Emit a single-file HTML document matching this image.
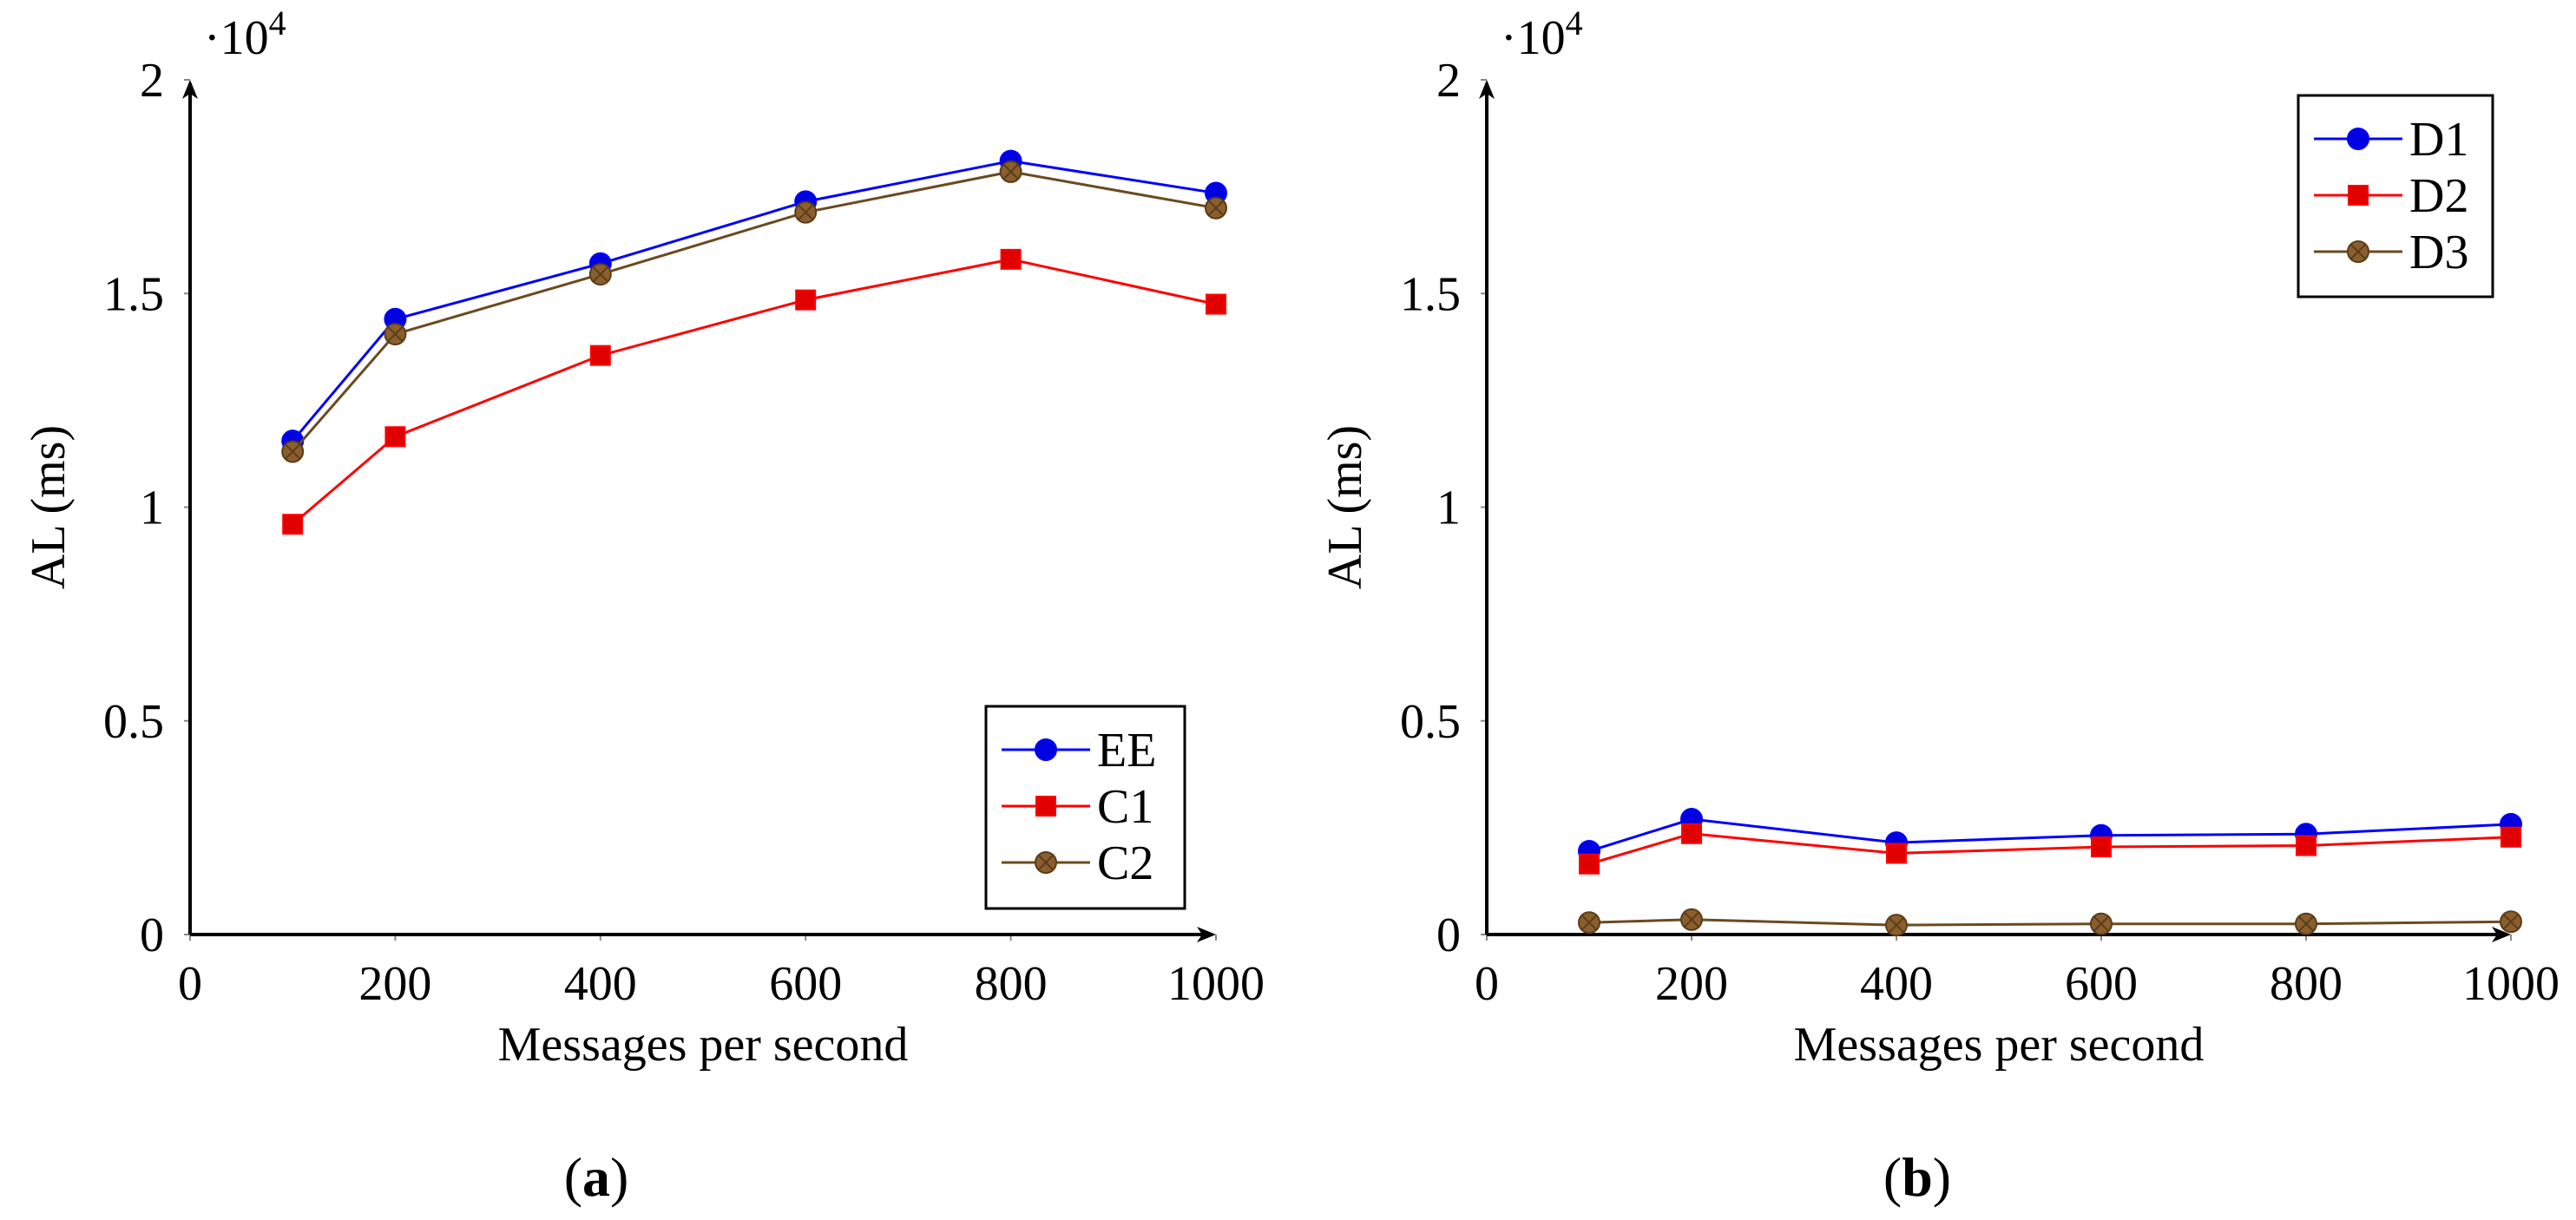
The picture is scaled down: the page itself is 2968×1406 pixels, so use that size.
<!DOCTYPE html>
<html><head><meta charset="utf-8"><style>
html,body{margin:0;padding:0;background:#fff}
svg{display:block}
text{font-family:"Liberation Serif","DejaVu Serif",serif;fill:#000}
</style></head><body>
<svg id="fig" width="2968" height="1406" viewBox="0 0 2968 1406" xmlns="http://www.w3.org/2000/svg"></svg>
<script>
const xValues = [100, 200, 400, 600, 800, 1000];
const xTicks = [0, 200, 400, 600, 800, 1000];
const yTicks = [0, 0.5, 1, 1.5, 2];
const yTickLabels = ["0", "0.5", "1", "1.5", "2"];
const eeValues = [1.155, 1.44, 1.57, 1.715, 1.81, 1.735];
const c1Values = [0.96, 1.165, 1.355, 1.485, 1.58, 1.475];
const c2Values = [1.13, 1.405, 1.545, 1.69, 1.785, 1.70];
const d1Values = [0.195, 0.27, 0.215, 0.232, 0.235, 0.258];
const d2Values = [0.165, 0.236, 0.19, 0.205, 0.208, 0.228];
const d3Values = [0.028, 0.035, 0.022, 0.025, 0.025, 0.030];
const seriesNamesA = ["EE", "C1", "C2"];
const seriesNamesB = ["D1", "D2", "D3"];

const NS = "http://www.w3.org/2000/svg";
const svg = document.getElementById('fig');
function mk(tag, attrs, parent) {
  const e = document.createElementNS(NS, tag);
  for (const k in attrs) e.setAttribute(k, attrs[k]);
  (parent || svg).appendChild(e);
  return e;
}
const styles = [
  {stroke: "#0000ff", fill: "#0000e0", marker: "circle"},
  {stroke: "#ff0000", fill: "#e00000", marker: "square"},
  {stroke: "#6b4a1f", fill: "#8b5e2e", marker: "otimes"}
];
function marker(g, type, cx, cy, st, name) {
  let m;
  if (type === "circle") {
    m = mk("circle", {cx: cx, cy: cy, r: 12, fill: st.fill, stroke: st.stroke, "stroke-width": 2}, g);
  } else if (type === "square") {
    m = mk("rect", {x: cx - 11, y: cy - 11, width: 22, height: 22, fill: st.fill, stroke: st.stroke, "stroke-width": 2}, g);
  } else {
    m = mk("g", {}, g);
    mk("circle", {cx: cx, cy: cy, r: 12, fill: st.fill, stroke: "#5a3d18", "stroke-width": 2}, m);
    mk("path", {d: `M${cx-8},${cy-8}L${cx+8},${cy+8}M${cx-8},${cy+8}L${cx+8},${cy-8}`, stroke: "#5a3d18", "stroke-width": 2}, m);
  }
  
  
}

function panel(opt) {
  const g = mk("g", {});
  
  
  const X0 = opt.x0, X1 = opt.x1, Y0 = 1077, Y1 = 92;
  const xs = v => X0 + (X1 - X0) * v / 1000;
  const ys = v => Y0 - (Y0 - Y1) * v / 2;
  yTicks.forEach((t, i) => {
    const y = ys(t);
    const tk = mk("line", {x1: X0 - 7, x2: X0, y1: y, y2: y, stroke: "#888", "stroke-width": 2}, g);
    
    
    const tx = mk("text", {x: X0 - 30, y: y + 19, "font-size": 56, "text-anchor": "end"}, g);
    tx.textContent = yTickLabels[i];
    
    
  });
  xTicks.forEach(t => {
    const x = xs(t);
    const tk = mk("line", {x1: x, x2: x, y1: Y0, y2: Y0 + 7, stroke: "#888", "stroke-width": 2}, g);
    
    
    const tx = mk("text", {x: x, y: 1152, "font-size": 56, "text-anchor": "middle"}, g);
    tx.textContent = String(t);
    
    
  });
  const ya = mk("path", {d: `M${X0},${Y0}L${X0},${Y1+4}`, stroke: "#000", "stroke-width": 4, fill: "none"}, g);
  
  
  mk("path", {d: `M${X0},${Y1}L${X0-9},${Y1+22}L${X0},${Y1+16}L${X0+9},${Y1+22}Z`, fill: "#000"}, g);
  const xa = mk("path", {d: `M${X0},${Y0}L${X1-4},${Y0}`, stroke: "#000", "stroke-width": 4, fill: "none"}, g);
  
  
  mk("path", {d: `M${X1},${Y0}L${X1-22},${Y0-9}L${X1-16},${Y0}L${X1-22},${Y0+9}Z`, fill: "#000"}, g);
  const mt = mk("text", {x: X0 + 16, y: 62, "font-size": 56}, g);
  mt.innerHTML = '·10<tspan dy="-22" font-size="40">4</tspan>';
  
  
  const yt = mk("text", {x: 0, y: 0, "font-size": 56, "text-anchor": "middle", transform: `translate(${X0-145},${(Y0+Y1)/2}) rotate(-90)`}, g);
  yt.textContent = "AL (ms)";
  
  
  const xt = mk("text", {x: (X0 + X1) / 2, y: 1222, "font-size": 56, "text-anchor": "middle"}, g);
  xt.textContent = "Messages per second";
  
  
  const cap = mk("text", {x: opt.capX, y: 1378, "font-size": 64, "text-anchor": "middle"}, g);
  cap.innerHTML = '(<tspan font-weight="bold">' + opt.cap + '</tspan>)';
  
  
  opt.series.forEach((vals, si) => {
    const st = styles[si];
    const sg = mk("g", {}, g);
    
    
    const d = vals.map((v, i) => (i ? "L" : "M") + xs(xValues[i]) + "," + ys(v)).join("");
    const ln = mk("path", {d: d, stroke: st.stroke, "stroke-width": 3, fill: "none"}, sg);
    
    
    vals.forEach((v, i) => marker(sg, st.marker, xs(xValues[i]), ys(v), st, 'point-' + opt.names[si].toLowerCase()));
  });
  const L = opt.legend;
  const lg = mk("g", {}, g);
  
  
  mk("rect", {x: L.x, y: L.y, width: L.w, height: L.h, fill: "#fff", stroke: "#000", "stroke-width": 3}, lg);
  opt.names.forEach((n, i) => {
    const st = styles[i];
    const y = L.y + 50 + i * L.step;
    const eg = mk("g", {}, lg);
    
    
    mk("line", {x1: L.x + 18, x2: L.x + 120, y1: y, y2: y, stroke: st.stroke, "stroke-width": 3}, eg);
    marker(eg, st.marker, L.x + 69, y, st, 'legend-marker');
    const t = mk("text", {x: L.x + 128, y: y + 19, "font-size": 56}, eg);
    t.textContent = n;
  });
}

panel({name: "panel-a", x0: 219, x1: 1401, capX: 687, cap: "a",
  series: [eeValues, c1Values, c2Values], names: seriesNamesA,
  legend: {x: 1136, y: 814, w: 229, h: 233, step: 65}});
panel({name: "panel-b", x0: 1713, x1: 2893, capX: 2209, cap: "b",
  series: [d1Values, d2Values, d3Values], names: seriesNamesB,
  legend: {x: 2648, y: 110, w: 224, h: 232, step: 65}});
</script>
</body></html>
